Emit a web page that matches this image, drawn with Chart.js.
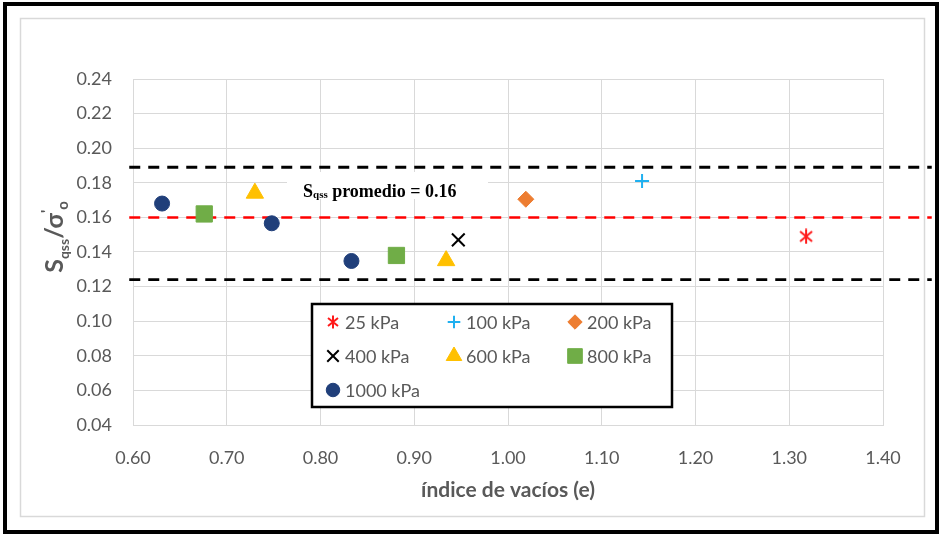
<!DOCTYPE html>
<html>
<head>
<meta charset="utf-8">
<script src="https://cdn.jsdelivr.net/npm/chart.js@4.4.1/dist/chart.umd.min.js"></script>
<style>
  html, body { margin: 0; padding: 0; background: #fff; }
  #wrap { width: 944px; height: 535px; }
</style>
</head>
<body>
<div id="wrap"><canvas id="chart" width="944" height="535"></canvas></div>
<script>
// data (void ratio e vs Sqss/sigma'o)
const e25 = [1.318];           const r25 = [0.149];
const e100 = [1.143];          const r100 = [0.181];
const e200 = [1.019];          const r200 = [0.1705];
const e400 = [0.947];          const r400 = [0.147];
const e600 = [0.730, 0.934];   const r600 = [0.174, 0.135];
const e800 = [0.676, 0.881];   const r800 = [0.162, 0.138];
const e1000 = [0.631, 0.748, 0.833]; const r1000 = [0.168, 0.1566, 0.1348];

const promedio = 0.16;
const limSup = 0.189;
const limInf = 0.124;
const lineX = [0.596, 1.452];

const xTicks = [0.6, 0.7, 0.8, 0.9, 1.0, 1.1, 1.2, 1.3, 1.4];
const yTicks = [0.04, 0.06, 0.08, 0.10, 0.12, 0.14, 0.16, 0.18, 0.20, 0.22, 0.24];

const GREY = "#595959";
const GRID = "#d9d9d9";

// Excel-like star marker (X with a vertical bar)
function makeStar(size, color) {
    const c = document.createElement("canvas");
    c.width = size; c.height = size;
    const g = c.getContext("2d");
    g.strokeStyle = color; g.lineWidth = 2; g.lineCap = "butt";
    const p = 2, q = size - 2, m = size / 2;
    g.beginPath();
    g.moveTo(p, p + 1); g.lineTo(q, q - 1);
    g.moveTo(q, p + 1); g.lineTo(p, q - 1);
    g.moveTo(m, 0.5); g.lineTo(m, size - 0.5);
    g.stroke();
    return c;
}
const starImg = makeStar(16, "#ff1a1a");
const starLeg = makeStar(14, "#ff1a1a");

function pts(xs, ys) { return xs.map((x, i) => ({ x: x, y: ys[i] })); }

const series = [
    { label: "25 kPa",   data: pts(e25, r25),     style: starImg,   leg: starLeg, radius: 8,  color: "#ff1a1a", bw: 2 },
    { label: "100 kPa",  data: pts(e100, r100),   style: "cross",   radius: 7,  color: "#1fb0f0", bw: 2 },
    { label: "200 kPa",  data: pts(e200, r200),   style: "rectRot", radius: 8,  color: "#ed7d31", bw: 1 },
    { label: "400 kPa",  data: pts(e400, r400),   style: "crossRot",radius: 9,  color: "#000000", bw: 2 },
    { label: "600 kPa",  data: pts(e600, r600),   style: "triangle",radius: 10, color: "#ffc000", bw: 1 },
    { label: "800 kPa",  data: pts(e800, r800),   style: "rect",    radius: 11.5, color: "#70ad47", bw: 1 },
    { label: "1000 kPa", data: pts(e1000, r1000), style: "circle",  radius: 7.5, color: "#203f7a", bw: 1 }
];

const pointSets = series.map(s => ({
    type: "scatter",
    label: s.label,
    data: s.data,
    pointStyle: s.style,
    pointRadius: s.radius,
    pointHoverRadius: s.radius,
    pointBackgroundColor: s.color,
    pointBorderColor: s.color,
    pointBorderWidth: s.bw,
    showLine: false
}));

function hline(value, color, width, dash) {
    return {
        type: "line",
        label: "_line",
        data: lineX.map(x => ({ x: x, y: value })),
        borderColor: color,
        borderWidth: width,
        borderDash: dash,
        pointRadius: 0,
        clip: false,
        order: 10
    };
}

// frame, titles, annotation box and the legend
const decor = {
    id: "decor",
    beforeDraw(chart) {
        const ctx = chart.ctx;
        ctx.save();
        ctx.fillStyle = "#fff";
        ctx.fillRect(0, 0, chart.width, chart.height);
        ctx.strokeStyle = GRID; ctx.lineWidth = 1.5;
        ctx.strokeRect(20.5, 18.5, 904, 498);
        ctx.strokeStyle = "#000"; ctx.lineWidth = 4;
        ctx.strokeRect(5, 4, 932, 528);
        ctx.restore();
    },
    beforeDatasetsDraw(chart) {
        const ctx = chart.ctx;
        // white box behind the average label
        ctx.save();
        ctx.fillStyle = "#fff";
        ctx.fillRect(287, 172, 201, 27);
        ctx.fillStyle = "#000";
        ctx.textBaseline = "alphabetic";
        let x = 303, base = 197;
        ctx.font = "bold 18px 'Liberation Serif'";
        ctx.fillText("S", x, base); x += ctx.measureText("S").width;
        ctx.font = "bold 11px 'Liberation Serif'";
        ctx.fillText("qss", x, base + 1); x += ctx.measureText("qss").width;
        ctx.font = "bold 18px 'Liberation Serif'";
        ctx.fillText(" promedio = 0.16", x, base);
        ctx.restore();
    },
    afterDraw(chart) {
        const ctx = chart.ctx;
        ctx.save();
        // x title
        ctx.fillStyle = GREY;
        ctx.font = "bold 21px Lato";
        ctx.textAlign = "center";
        ctx.textBaseline = "middle";
        ctx.fillText("índice de vacíos (e)", 508, 490);

        // y title, rotated, with sub/superscripts
        const parts = [
            { t: "S", f: "bold 25px Lato", dy: 0 },
            { t: "qss", f: "bold 14px Lato", dy: 6 },
            { t: "/σ", f: "bold 25px Lato", dy: 0 },
            { t: "'", f: "bold 15px Lato", dy: -11 },
            { t: "o", f: "bold 15px Lato", dy: 5 }
        ];
        let total = 0;
        parts.forEach(p => { ctx.font = p.f; p.w = ctx.measureText(p.t).width; total += p.w; });
        ctx.translate(63, 237);
        ctx.rotate(-Math.PI / 2);
        ctx.textAlign = "left";
        ctx.textBaseline = "alphabetic";
        let px = -total / 2;
        parts.forEach(p => { ctx.font = p.f; ctx.fillText(p.t, px, p.dy); px += p.w; });
        ctx.restore();

        // legend box
        ctx.save();
        ctx.fillStyle = "#fff";
        ctx.fillRect(312, 304, 360, 103);
        ctx.strokeStyle = "#000"; ctx.lineWidth = 2.5;
        ctx.strokeRect(312, 304, 360, 103);
        const colX = [333, 454, 575];
        const rowY = [322, 356, 390];
        ctx.font = "18px Lato";
        ctx.textBaseline = "middle";
        ctx.textAlign = "left";
        series.forEach((s, i) => {
            const cx = colX[i % 3], cy = rowY[Math.floor(i / 3)];
            ctx.fillStyle = s.color; ctx.strokeStyle = s.color; ctx.lineWidth = s.bw;
            Chart.helpers.drawPoint(ctx, {
                pointStyle: s.leg || s.style, rotation: 0, radius: s.radius * 0.9, borderWidth: s.bw
            }, cx, cy);
            ctx.fillStyle = GREY;
            ctx.fillText(s.label, cx + 12, cy + 1);
        });
        ctx.restore();
    }
};

const ctx = document.getElementById("chart").getContext("2d");
const chart = new Chart(ctx, {
    type: "scatter",
    data: {
        datasets: [
            hline(limSup, "#000000", 2.8, [11, 8]),
            hline(limInf, "#000000", 2.8, [11, 8]),
            hline(promedio, "#ff0000", 2.5, [11, 8])
        ].concat(pointSets)
    },
    options: {
        responsive: false,
        animation: false,
        layout: { padding: { left: 0, top: 79, right: 61, bottom: 0 } },
        plugins: {
            legend: { display: false },
            tooltip: { enabled: false }
        },
        scales: {
            x: {
                type: "linear",
                min: 0.6, max: 1.4,
                afterBuildTicks: axis => { axis.ticks = xTicks.map(v => ({ value: v })); },
                afterFit: axis => { axis.height = 110; },
                grid: { color: GRID, lineWidth: 1, drawTicks: false },
                border: { color: GRID },
                ticks: {
                    padding: 22,
                    color: GREY,
                    font: { family: "Lato", size: 18 },
                    callback: v => v.toFixed(2)
                }
            },
            y: {
                type: "linear",
                min: 0.04, max: 0.24,
                afterBuildTicks: axis => { axis.ticks = yTicks.map(v => ({ value: v })); },
                afterFit: axis => { axis.width = 133; },
                grid: { color: GRID, lineWidth: 1, drawTicks: false },
                border: { color: GRID },
                ticks: {
                    padding: 21,
                    color: GREY,
                    font: { family: "Lato", size: 18 },
                    callback: v => v.toFixed(2)
                }
            }
        }
    },
    plugins: [decor]
});
</script>
</body>
</html>
